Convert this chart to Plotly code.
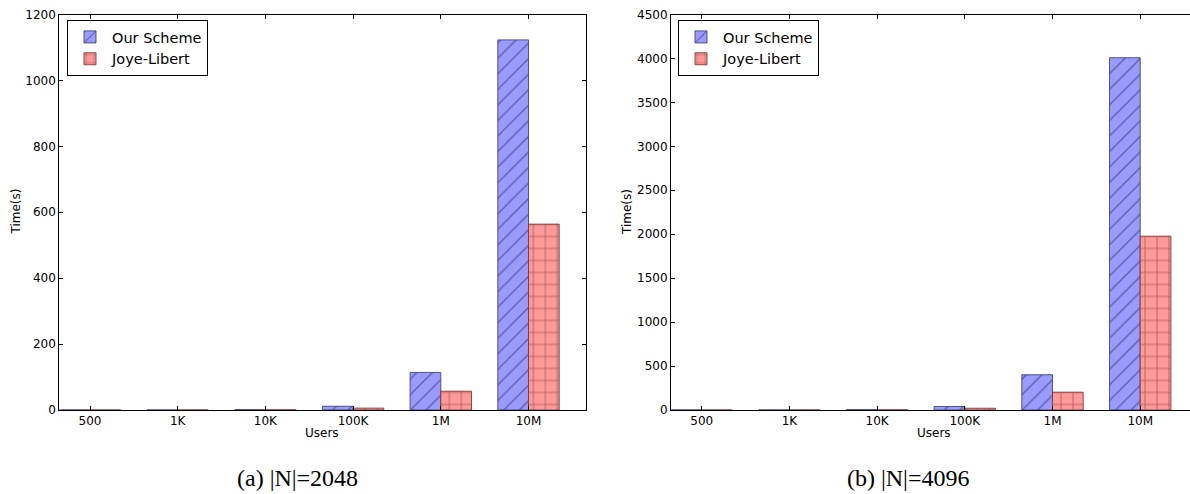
import plotly.graph_objects as go

# ---- data -------------------------------------------------------------
categories = ["500", "1K", "10K", "100K", "1M", "10M"]

# |N| = 2048
ours_2048 = [0.06, 0.12, 1.1, 11.4, 114, 1123]
jl_2048 = [0.03, 0.06, 0.57, 5.7, 57, 564]

# |N| = 4096
ours_4096 = [0.2, 0.4, 4.0, 40, 401, 4008]
jl_4096 = [0.1, 0.2, 2.0, 20, 203, 1978]

yticks_2048 = [0, 200, 400, 600, 800, 1000, 1200]
yticks_4096 = [0, 500, 1000, 1500, 2000, 2500, 3000, 3500, 4000, 4500]

# ---- style ------------------------------------------------------------
W, H = 1190, 494
BLUE_FILL = "#9a9aff"
BLUE_EDGE = "rgba(60,60,120,0.85)"
BLUE_HATCH = "rgba(70,70,140,0.75)"
RED_FILL = "#ff9a9a"
RED_EDGE = "rgba(120,50,50,0.85)"
RED_HATCH = "rgba(140,60,60,0.75)"
TICK_FONT = dict(family="DejaVu Sans", size=12, color="black")
BAR_W = 0.35


def px(x):
    return x / W


def py(y):
    return 1 - y / H


fig = go.Figure()

panels = [
    (ours_2048, jl_2048, "x", "y", "legend"),
    (ours_4096, jl_4096, "x2", "y2", "legend2"),
]
xpos = list(range(len(categories)))
for ours, jl, xa, ya, leg in panels:
    fig.add_bar(
        x=xpos, y=ours, offset=-BAR_W, width=BAR_W,
        xaxis=xa, yaxis=ya, legend=leg, name="Our Scheme",
        marker=dict(
            color=BLUE_FILL,
            line=dict(color=BLUE_EDGE, width=1),
            pattern=dict(shape="/", size=11, solidity=0.12,
                         fgcolor=BLUE_HATCH, bgcolor=BLUE_FILL,
                         fillmode="replace"),
        ),
    )
    fig.add_bar(
        x=xpos, y=jl, offset=0, width=BAR_W,
        xaxis=xa, yaxis=ya, legend=leg, name="Joye-Libert",
        marker=dict(
            color=RED_FILL,
            line=dict(color=RED_EDGE, width=1),
            pattern=dict(shape="+", size=12, solidity=0.12,
                         fgcolor=RED_HATCH, bgcolor=RED_FILL,
                         fillmode="replace"),
        ),
    )

axis_common = dict(
    showline=True, linecolor="black", linewidth=1,
    ticks="inside", ticklen=4, tickwidth=1, tickcolor="black",
    showgrid=False, zeroline=False, tickfont=TICK_FONT,
    ticklabelstandoff=0, automargin=False,
)

# category spacing in pixels is the same in both panels
cat_px = 87.7
left_x0, left_x1 = 59.3, 585.5
right_x0, right_x1 = 671.0, 1190.0
x_lo = -0.35

legend_common = dict(
    yanchor="top", xanchor="left",
    bgcolor="white", bordercolor="black", borderwidth=1,
    font=dict(family="DejaVu Sans", size=14.5, color="black"),
    itemwidth=34, tracegroupgap=0,
)

fig.update_layout(
    template="none",
    width=W, height=H,
    margin=dict(l=0, r=0, t=0, b=0, autoexpand=False),
    paper_bgcolor="white", plot_bgcolor="white",
    barmode="overlay",
    xaxis=dict(
        domain=[px(left_x0), px(left_x1)],
        range=[x_lo, x_lo + (left_x1 - left_x0) / cat_px],
        tickvals=xpos, ticktext=categories, mirror="ticks",
        anchor="y", **axis_common,
    ),
    yaxis=dict(
        domain=[py(410), py(14.5)], range=[0, 1200],
        tickvals=yticks_2048, mirror="ticks", anchor="x", **axis_common,
    ),
    xaxis2=dict(
        domain=[px(right_x0), px(right_x1)],
        range=[x_lo, x_lo + (right_x1 - right_x0) / cat_px],
        tickvals=xpos, ticktext=categories, mirror="ticks",
        anchor="y2", **axis_common,
    ),
    yaxis2=dict(
        domain=[py(410), py(14.5)], range=[0, 4500],
        tickvals=yticks_4096, mirror=False, anchor="x2", **axis_common,
    ),
    legend=dict(x=px(67), y=py(20), **legend_common),
    legend2=dict(x=px(678), y=py(20), **legend_common),
)

label_font = dict(family="DejaVu Sans", size=12, color="black")
caption_font = dict(family="Liberation Serif", size=24, color="black")
annotations = [
    dict(text="Users", x=px(322.4), y=py(433), font=label_font),
    dict(text="Users", x=px(934), y=py(433), font=label_font),
    dict(text="Time(s)", x=px(15.5), y=py(212), font=label_font, textangle=-90),
    dict(text="Time(s)", x=px(627), y=py(212), font=label_font, textangle=-90),
    dict(text="(a) |N|=2048", x=px(297), y=py(478), font=caption_font),
    dict(text="(b) |N|=4096", x=px(908), y=py(478), font=caption_font),
]
for a in annotations:
    fig.add_annotation(xref="paper", yref="paper", showarrow=False,
                       xanchor="center", yanchor="middle", **a)

fig.write_html("out.html")
